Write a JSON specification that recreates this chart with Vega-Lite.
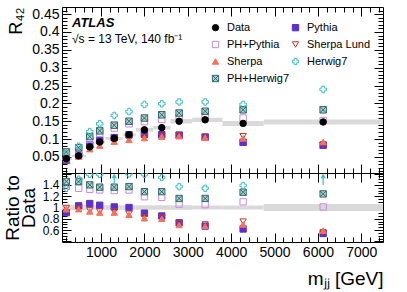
{
  "$schema": "https://vega.github.io/schema/vega-lite/v6.json",
  "padding": {"left": 2, "top": 3, "right": 5, "bottom": 5},
  "config": {
    "font": "Liberation Sans",
    "view": {"stroke": "black", "strokeWidth": 1},
    "axis": {"domain": false, "grid": false, "tickColor": "black", "labelColor": "black", "titleColor": "black", "labelFont": "Liberation Sans", "titleFont": "Liberation Sans", "labelFontSize": 14, "titleFontWeight": "normal", "labelOverlap": false, "labelFlush": false, "labelBound": false},
    "title": {"font": "Liberation Sans", "color": "black", "subtitleColor": "black", "subtitleFont": "Liberation Sans"}
  },
  "datasets": {
    "bins": [
      {"mjj": 200, "xlo": 100, "xhi": 325, "ylo": 0.042, "yhi": 0.048, "rlo": 0.95, "rhi": 1.05},
      {"mjj": 485, "xlo": 325, "xhi": 650, "ylo": 0.050, "yhi": 0.056, "rlo": 0.95, "rhi": 1.05},
      {"mjj": 740, "xlo": 650, "xhi": 850, "ylo": 0.075, "yhi": 0.081, "rlo": 0.96, "rhi": 1.04},
      {"mjj": 970, "xlo": 850, "xhi": 1100, "ylo": 0.088, "yhi": 0.096, "rlo": 0.96, "rhi": 1.04},
      {"mjj": 1305, "xlo": 1100, "xhi": 1500, "ylo": 0.098, "yhi": 0.106, "rlo": 0.96, "rhi": 1.04},
      {"mjj": 1645, "xlo": 1500, "xhi": 1800, "ylo": 0.108, "yhi": 0.116, "rlo": 0.96, "rhi": 1.04},
      {"mjj": 2000, "xlo": 1800, "xhi": 2200, "ylo": 0.121, "yhi": 0.131, "rlo": 0.96, "rhi": 1.04},
      {"mjj": 2400, "xlo": 2200, "xhi": 2600, "ylo": 0.127, "yhi": 0.137, "rlo": 0.96, "rhi": 1.04},
      {"mjj": 2800, "xlo": 2600, "xhi": 3100, "ylo": 0.144, "yhi": 0.156, "rlo": 0.96, "rhi": 1.04},
      {"mjj": 3400, "xlo": 3100, "xhi": 3800, "ylo": 0.148, "yhi": 0.160, "rlo": 0.965, "rhi": 1.035},
      {"mjj": 4275, "xlo": 3800, "xhi": 4750, "ylo": 0.137, "yhi": 0.151, "rlo": 0.965, "rhi": 1.035},
      {"mjj": 6120, "xlo": 4750, "xhi": 7500, "ylo": 0.141, "yhi": 0.155, "rlo": 0.94, "rhi": 1.06}
    ],
    "arrows": [
      {"mjj": 1305, "from": 1.40, "to": 1.56},
      {"mjj": 6120, "from": 1.40, "to": 1.56}
    ],
    "pts": [
      {"series": "Pythia", "mjj": 200, "r42": 0.041, "ratio": 0.91},
      {"series": "Pythia", "mjj": 485, "r42": 0.055, "ratio": 1.03},
      {"series": "Pythia", "mjj": 740, "r42": 0.083, "ratio": 1.07},
      {"series": "Pythia", "mjj": 970, "r42": 0.096, "ratio": 1.04},
      {"series": "Pythia", "mjj": 1305, "r42": 0.104, "ratio": 1.01},
      {"series": "Pythia", "mjj": 1645, "r42": 0.112, "ratio": 1.00},
      {"series": "Pythia", "mjj": 2000, "r42": 0.113, "ratio": 0.90},
      {"series": "Pythia", "mjj": 2400, "r42": 0.112, "ratio": 0.85},
      {"series": "Pythia", "mjj": 2800, "r42": 0.111, "ratio": 0.73},
      {"series": "Pythia", "mjj": 3400, "r42": 0.105, "ratio": 0.67},
      {"series": "Pythia", "mjj": 4275, "r42": 0.091, "ratio": 0.62},
      {"series": "Pythia", "mjj": 6120, "r42": 0.083, "ratio": 0.54},
      {"series": "PH+Pythia", "mjj": 200, "r42": 0.063, "ratio": 1.40},
      {"series": "PH+Pythia", "mjj": 485, "r42": 0.071, "ratio": 1.34},
      {"series": "PH+Pythia", "mjj": 740, "r42": 0.099, "ratio": 1.32},
      {"series": "PH+Pythia", "mjj": 970, "r42": 0.116, "ratio": 1.31},
      {"series": "PH+Pythia", "mjj": 1305, "r42": 0.131, "ratio": 1.30},
      {"series": "PH+Pythia", "mjj": 1645, "r42": 0.143, "ratio": 1.31},
      {"series": "PH+Pythia", "mjj": 2000, "r42": 0.149, "ratio": 1.19},
      {"series": "PH+Pythia", "mjj": 2400, "r42": 0.155, "ratio": 1.18},
      {"series": "PH+Pythia", "mjj": 2800, "r42": 0.160, "ratio": 1.06},
      {"series": "PH+Pythia", "mjj": 3400, "r42": 0.164, "ratio": 1.05},
      {"series": "PH+Pythia", "mjj": 4275, "r42": 0.159, "ratio": 1.10},
      {"series": "PH+Pythia", "mjj": 6120, "r42": 0.152, "ratio": 1.01},
      {"series": "PH+Herwig7", "mjj": 200, "r42": 0.064, "ratio": 1.46},
      {"series": "PH+Herwig7", "mjj": 485, "r42": 0.076, "ratio": 1.46},
      {"series": "PH+Herwig7", "mjj": 740, "r42": 0.107, "ratio": 1.40},
      {"series": "PH+Herwig7", "mjj": 970, "r42": 0.123, "ratio": 1.36},
      {"series": "PH+Herwig7", "mjj": 1305, "r42": 0.139, "ratio": 1.36},
      {"series": "PH+Herwig7", "mjj": 1645, "r42": 0.150, "ratio": 1.37},
      {"series": "PH+Herwig7", "mjj": 2000, "r42": 0.159, "ratio": 1.28},
      {"series": "PH+Herwig7", "mjj": 2400, "r42": 0.168, "ratio": 1.28},
      {"series": "PH+Herwig7", "mjj": 2800, "r42": 0.173, "ratio": 1.16},
      {"series": "PH+Herwig7", "mjj": 3400, "r42": 0.178, "ratio": 1.16},
      {"series": "PH+Herwig7", "mjj": 4275, "r42": 0.182, "ratio": 1.27},
      {"series": "PH+Herwig7", "mjj": 6120, "r42": 0.182, "ratio": 1.24},
      {"series": "Herwig7", "mjj": 200, "r42": 0.060, "ratio": 1.34},
      {"series": "Herwig7", "mjj": 485, "r42": 0.080, "ratio": 1.50},
      {"series": "Herwig7", "mjj": 740, "r42": 0.121, "ratio": 1.585},
      {"series": "Herwig7", "mjj": 970, "r42": 0.143, "ratio": 1.585},
      {"series": "Herwig7", "mjj": 1305, "r42": 0.166},
      {"series": "Herwig7", "mjj": 1645, "r42": 0.177, "ratio": 1.595},
      {"series": "Herwig7", "mjj": 2000, "r42": 0.197, "ratio": 1.585},
      {"series": "Herwig7", "mjj": 2400, "r42": 0.199, "ratio": 1.53},
      {"series": "Herwig7", "mjj": 2800, "r42": 0.204, "ratio": 1.37},
      {"series": "Herwig7", "mjj": 3400, "r42": 0.204, "ratio": 1.34},
      {"series": "Herwig7", "mjj": 4275, "r42": 0.197, "ratio": 1.39},
      {"series": "Herwig7", "mjj": 6120, "r42": 0.239},
      {"series": "Sherpa Lund", "mjj": 200, "r42": 0.045, "ratio": 0.99},
      {"series": "Sherpa Lund", "mjj": 485, "r42": 0.052, "ratio": 0.98},
      {"series": "Sherpa Lund", "mjj": 740, "r42": 0.074, "ratio": 0.95},
      {"series": "Sherpa Lund", "mjj": 970, "r42": 0.084, "ratio": 0.93},
      {"series": "Sherpa Lund", "mjj": 1305, "r42": 0.095, "ratio": 0.93},
      {"series": "Sherpa Lund", "mjj": 1645, "r42": 0.100, "ratio": 0.89},
      {"series": "Sherpa Lund", "mjj": 2000, "r42": 0.105, "ratio": 0.83},
      {"series": "Sherpa Lund", "mjj": 2400, "r42": 0.109, "ratio": 0.82},
      {"series": "Sherpa Lund", "mjj": 2800, "r42": 0.111, "ratio": 0.72},
      {"series": "Sherpa Lund", "mjj": 3400, "r42": 0.107, "ratio": 0.70},
      {"series": "Sherpa Lund", "mjj": 4275, "r42": 0.108, "ratio": 0.75},
      {"series": "Sherpa Lund", "mjj": 6120, "r42": 0.084, "ratio": 0.56},
      {"series": "Sherpa", "mjj": 200, "r42": 0.044, "ratio": 0.97},
      {"series": "Sherpa", "mjj": 485, "r42": 0.051, "ratio": 0.97},
      {"series": "Sherpa", "mjj": 740, "r42": 0.072, "ratio": 0.93},
      {"series": "Sherpa", "mjj": 970, "r42": 0.082, "ratio": 0.91},
      {"series": "Sherpa", "mjj": 1305, "r42": 0.093, "ratio": 0.91},
      {"series": "Sherpa", "mjj": 1645, "r42": 0.098, "ratio": 0.87},
      {"series": "Sherpa", "mjj": 2000, "r42": 0.103, "ratio": 0.81},
      {"series": "Sherpa", "mjj": 2400, "r42": 0.107, "ratio": 0.80},
      {"series": "Sherpa", "mjj": 2800, "r42": 0.108, "ratio": 0.69},
      {"series": "Sherpa", "mjj": 3400, "r42": 0.104, "ratio": 0.67},
      {"series": "Sherpa", "mjj": 4275, "r42": 0.102, "ratio": 0.70},
      {"series": "Sherpa", "mjj": 6120, "r42": 0.092, "ratio": 0.59},
      {"series": "Data", "mjj": 200, "r42": 0.045},
      {"series": "Data", "mjj": 485, "r42": 0.053},
      {"series": "Data", "mjj": 740, "r42": 0.078},
      {"series": "Data", "mjj": 970, "r42": 0.092},
      {"series": "Data", "mjj": 1305, "r42": 0.102},
      {"series": "Data", "mjj": 1645, "r42": 0.112},
      {"series": "Data", "mjj": 2000, "r42": 0.126},
      {"series": "Data", "mjj": 2400, "r42": 0.132},
      {"series": "Data", "mjj": 2800, "r42": 0.150},
      {"series": "Data", "mjj": 3400, "r42": 0.154},
      {"series": "Data", "mjj": 4275, "r42": 0.144},
      {"series": "Data", "mjj": 6120, "r42": 0.148}
    ]
  },
  "bounds": "flush",
  "spacing": 0,
  "resolve": {"scale": {"x": "independent", "y": "independent", "shape": "independent", "fill": "independent", "stroke": "independent"}, "legend": {"shape": "independent", "fill": "independent", "stroke": "independent"}},
  "vconcat": [
    {
      "width": 321,
      "height": 166,
      "title": {"text": "ATLAS", "subtitle": "√s = 13 TeV, 140 fb⁻¹", "anchor": "start", "frame": "group", "offset": -41, "dx": 10, "fontSize": 13, "fontStyle": "italic", "fontWeight": "bold", "subtitleFontSize": 12, "subtitlePadding": 4},
      "layer": [
        {
          "data": {"name": "bins"},
          "mark": {"type": "rect", "color": "#d9d9d9"},
          "encoding": {
            "x": {"field": "xlo", "type": "quantitative", "scale": {"domain": [100, 7500], "nice": false, "zero": false},
              "axis": {"orient": "bottom", "title": null, "labels": false, "values": [200,400,600,800,1000,1200,1400,1600,1800,2000,2200,2400,2600,2800,3000,3200,3400,3600,3800,4000,4200,4400,4600,4800,5000,5200,5400,5600,5800,6000,6200,6400,6600,6800,7000,7200,7400], "tickSize": {"condition": {"test": "datum.value % 1000 === 0", "value": -9}, "value": -5}}},
            "x2": {"field": "xhi"},
            "y": {"field": "ylo", "type": "quantitative", "scale": {"domain": [0.005, 0.47], "nice": false, "zero": false},
              "axis": {"orient": "left", "title": "R₄₂", "titleFontSize": 18, "titleAnchor": "end", "titlePadding": 6, "format": "~g", "values": [0.01,0.02,0.03,0.04,0.05,0.06,0.07,0.08,0.09,0.1,0.11,0.12,0.13,0.14,0.15,0.16,0.17,0.18,0.19,0.2,0.21,0.22,0.23,0.24,0.25,0.26,0.27,0.28,0.29,0.3,0.31,0.32,0.33,0.34,0.35,0.36,0.37,0.38,0.39,0.4,0.41,0.42,0.43,0.44,0.45,0.46], "labelExpr": "round(datum.value*100) % 5 === 0 ? datum.label : ''", "tickSize": {"condition": {"test": "round(datum.value*100) % 5 === 0", "value": -9}, "value": -5}, "labelPadding": 12}},
            "y2": {"field": "yhi"}
          }
        },
        {
          "data": {"name": "pts"},
          "mark": {"type": "point", "filled": true, "opacity": 1, "size": 42, "strokeWidth": 1},
          "encoding": {
            "x": {"field": "mjj", "type": "quantitative",
              "axis": {"orient": "top", "title": null, "labels": false, "values": [200,400,600,800,1000,1200,1400,1600,1800,2000,2200,2400,2600,2800,3000,3200,3400,3600,3800,4000,4200,4400,4600,4800,5000,5200,5400,5600,5800,6000,6200,6400,6600,6800,7000,7200,7400], "tickSize": {"condition": {"test": "datum.value % 1000 === 0", "value": -9}, "value": -5}}},
            "y": {"field": "r42", "type": "quantitative",
              "axis": {"orient": "right", "title": null, "labels": false, "values": [0.01,0.02,0.03,0.04,0.05,0.06,0.07,0.08,0.09,0.1,0.11,0.12,0.13,0.14,0.15,0.16,0.17,0.18,0.19,0.2,0.21,0.22,0.23,0.24,0.25,0.26,0.27,0.28,0.29,0.3,0.31,0.32,0.33,0.34,0.35,0.36,0.37,0.38,0.39,0.4,0.41,0.42,0.43,0.44,0.45,0.46], "tickSize": {"condition": {"test": "round(datum.value*100) % 5 === 0", "value": -9}, "value": -5}}},
            "shape": {"field": "series", "type": "nominal",
              "scale": {"domain": ["Data", "PH+Pythia", "Sherpa", "PH+Herwig7", "Pythia", "Sherpa Lund", "Herwig7"], "range": ["circle", "square", "triangle-up", "M-1,-1H1V1H-1Z M-1,-1L1,1 M1,-1L-1,1", "square", "triangle-down", "cross"]},
              "legend": {"orient": "none", "legendX": 148, "legendY": 15, "columns": 2, "title": null, "labelFontSize": 11, "labelFont": "Liberation Sans", "labelColor": "black", "symbolSize": 40, "symbolStrokeWidth": 1, "rowPadding": 5, "columnPadding": -8, "labelOffset": 6, "padding": 0}},
            "fill": {"field": "series", "type": "nominal",
              "scale": {"domain": ["Data", "PH+Pythia", "Sherpa", "PH+Herwig7", "Pythia", "Sherpa Lund", "Herwig7"], "range": ["black", "transparent", "#f7705c", "#b5cccc", "#5b2fd0", "transparent", "transparent"]},
              "legend": {"orient": "none", "legendX": 148, "legendY": 15, "columns": 2, "title": null, "labelFontSize": 11, "labelFont": "Liberation Sans", "labelColor": "black", "symbolSize": 40, "symbolStrokeWidth": 1, "rowPadding": 5, "columnPadding": -8, "labelOffset": 6, "padding": 0}},
            "stroke": {"field": "series", "type": "nominal",
              "scale": {"domain": ["Data", "PH+Pythia", "Sherpa", "PH+Herwig7", "Pythia", "Sherpa Lund", "Herwig7"], "range": ["black", "#c58ae8", "#f7705c", "#2e6b6e", "#5b2fd0", "#c0392b", "#3bbfbf"]},
              "legend": {"orient": "none", "legendX": 148, "legendY": 15, "columns": 2, "title": null, "labelFontSize": 11, "labelFont": "Liberation Sans", "labelColor": "black", "symbolSize": 40, "symbolStrokeWidth": 1, "rowPadding": 5, "columnPadding": -8, "labelOffset": 6, "padding": 0}}
          }
        }
      ],
      "resolve": {"axis": {"x": "independent", "y": "independent"}}
    },
    {
      "width": 321,
      "height": 69,
      "layer": [
        {
          "data": {"name": "bins"},
          "mark": {"type": "rect", "color": "#d9d9d9"},
          "encoding": {
            "x": {"field": "xlo", "type": "quantitative", "scale": {"domain": [100, 7500], "nice": false, "zero": false},
              "axis": {"orient": "bottom", "title": "mⱼⱼ [GeV]", "titleFontSize": 19, "titleAnchor": "end", "titlePadding": 6, "format": "d", "values": [200,400,600,800,1000,1200,1400,1600,1800,2000,2200,2400,2600,2800,3000,3200,3400,3600,3800,4000,4200,4400,4600,4800,5000,5200,5400,5600,5800,6000,6200,6400,6600,6800,7000,7200,7400], "labelExpr": "datum.value % 1000 === 0 ? datum.label : ''", "tickSize": {"condition": {"test": "datum.value % 1000 === 0", "value": -9}, "value": -5}, "labelPadding": 12}},
            "x2": {"field": "xhi"},
            "y": {"field": "rlo", "type": "quantitative", "scale": {"domain": [0.39, 1.61], "nice": false, "zero": false},
              "axis": {"orient": "left", "title": ["Ratio to", "Data"], "titleFontSize": 19, "titleLineHeight": 16, "titlePadding": 4, "format": "~g", "labelFontSize": 12, "values": [0.4,0.45,0.5,0.55,0.6,0.65,0.7,0.75,0.8,0.85,0.9,0.95,1,1.05,1.1,1.15,1.2,1.25,1.3,1.35,1.4,1.45,1.5,1.55,1.6], "labelExpr": "(round(datum.value*100) % 20 === 0 && datum.value > 0.5 && datum.value < 1.5) ? datum.label : ''", "tickSize": {"condition": {"test": "round(datum.value*100) % 20 === 0", "value": -9}, "value": -5}, "labelPadding": 12}},
            "y2": {"field": "rhi"}
          }
        },
        {
          "mark": {"type": "rule", "color": "#999999", "strokeDash": [3, 3], "strokeWidth": 1},
          "encoding": {"y": {"datum": 1, "type": "quantitative", "axis": null}}
        },
        {
          "data": {"name": "pts"},
          "transform": [{"filter": "datum.series !== 'Data' && isValid(datum.ratio)"}],
          "mark": {"type": "point", "filled": true, "opacity": 1, "size": 40, "strokeWidth": 1, "clip": true},
          "encoding": {
            "x": {"field": "mjj", "type": "quantitative",
              "axis": {"orient": "top", "title": null, "labels": false, "values": [200,400,600,800,1000,1200,1400,1600,1800,2000,2200,2400,2600,2800,3000,3200,3400,3600,3800,4000,4200,4400,4600,4800,5000,5200,5400,5600,5800,6000,6200,6400,6600,6800,7000,7200,7400], "tickSize": {"condition": {"test": "datum.value % 1000 === 0", "value": -9}, "value": -5}}},
            "y": {"field": "ratio", "type": "quantitative",
              "axis": {"orient": "right", "title": null, "labels": false, "values": [0.4,0.45,0.5,0.55,0.6,0.65,0.7,0.75,0.8,0.85,0.9,0.95,1,1.05,1.1,1.15,1.2,1.25,1.3,1.35,1.4,1.45,1.5,1.55,1.6], "tickSize": {"condition": {"test": "round(datum.value*100) % 20 === 0", "value": -9}, "value": -5}}},
            "shape": {"field": "series", "type": "nominal",
              "scale": {"domain": ["Data", "PH+Pythia", "Sherpa", "PH+Herwig7", "Pythia", "Sherpa Lund", "Herwig7"], "range": ["circle", "square", "triangle-up", "M-1,-1H1V1H-1Z M-1,-1L1,1 M1,-1L-1,1", "square", "triangle-down", "cross"]}, "legend": null},
            "fill": {"field": "series", "type": "nominal",
              "scale": {"domain": ["Data", "PH+Pythia", "Sherpa", "PH+Herwig7", "Pythia", "Sherpa Lund", "Herwig7"], "range": ["black", "transparent", "#f7705c", "#b5cccc", "#5b2fd0", "transparent", "transparent"]}, "legend": null},
            "stroke": {"field": "series", "type": "nominal",
              "scale": {"domain": ["Data", "PH+Pythia", "Sherpa", "PH+Herwig7", "Pythia", "Sherpa Lund", "Herwig7"], "range": ["black", "#c58ae8", "#f7705c", "#2e6b6e", "#5b2fd0", "#c0392b", "#3bbfbf"]}, "legend": null}
          }
        },
        {
          "data": {"name": "arrows"},
          "mark": {"type": "rule", "color": "#3bbfbf", "strokeWidth": 1.2},
          "encoding": {
            "x": {"field": "mjj", "type": "quantitative", "axis": null},
            "y": {"field": "from", "type": "quantitative", "axis": null},
            "y2": {"field": "to"}
          }
        },
        {
          "data": {"name": "arrows"},
          "mark": {"type": "point", "shape": "triangle-up", "filled": true, "opacity": 1, "size": 30, "color": "#3bbfbf"},
          "encoding": {
            "x": {"field": "mjj", "type": "quantitative", "axis": null},
            "y": {"field": "to", "type": "quantitative", "axis": null}
          }
        }
      ],
      "resolve": {"axis": {"x": "independent", "y": "independent"}}
    }
  ]
}
